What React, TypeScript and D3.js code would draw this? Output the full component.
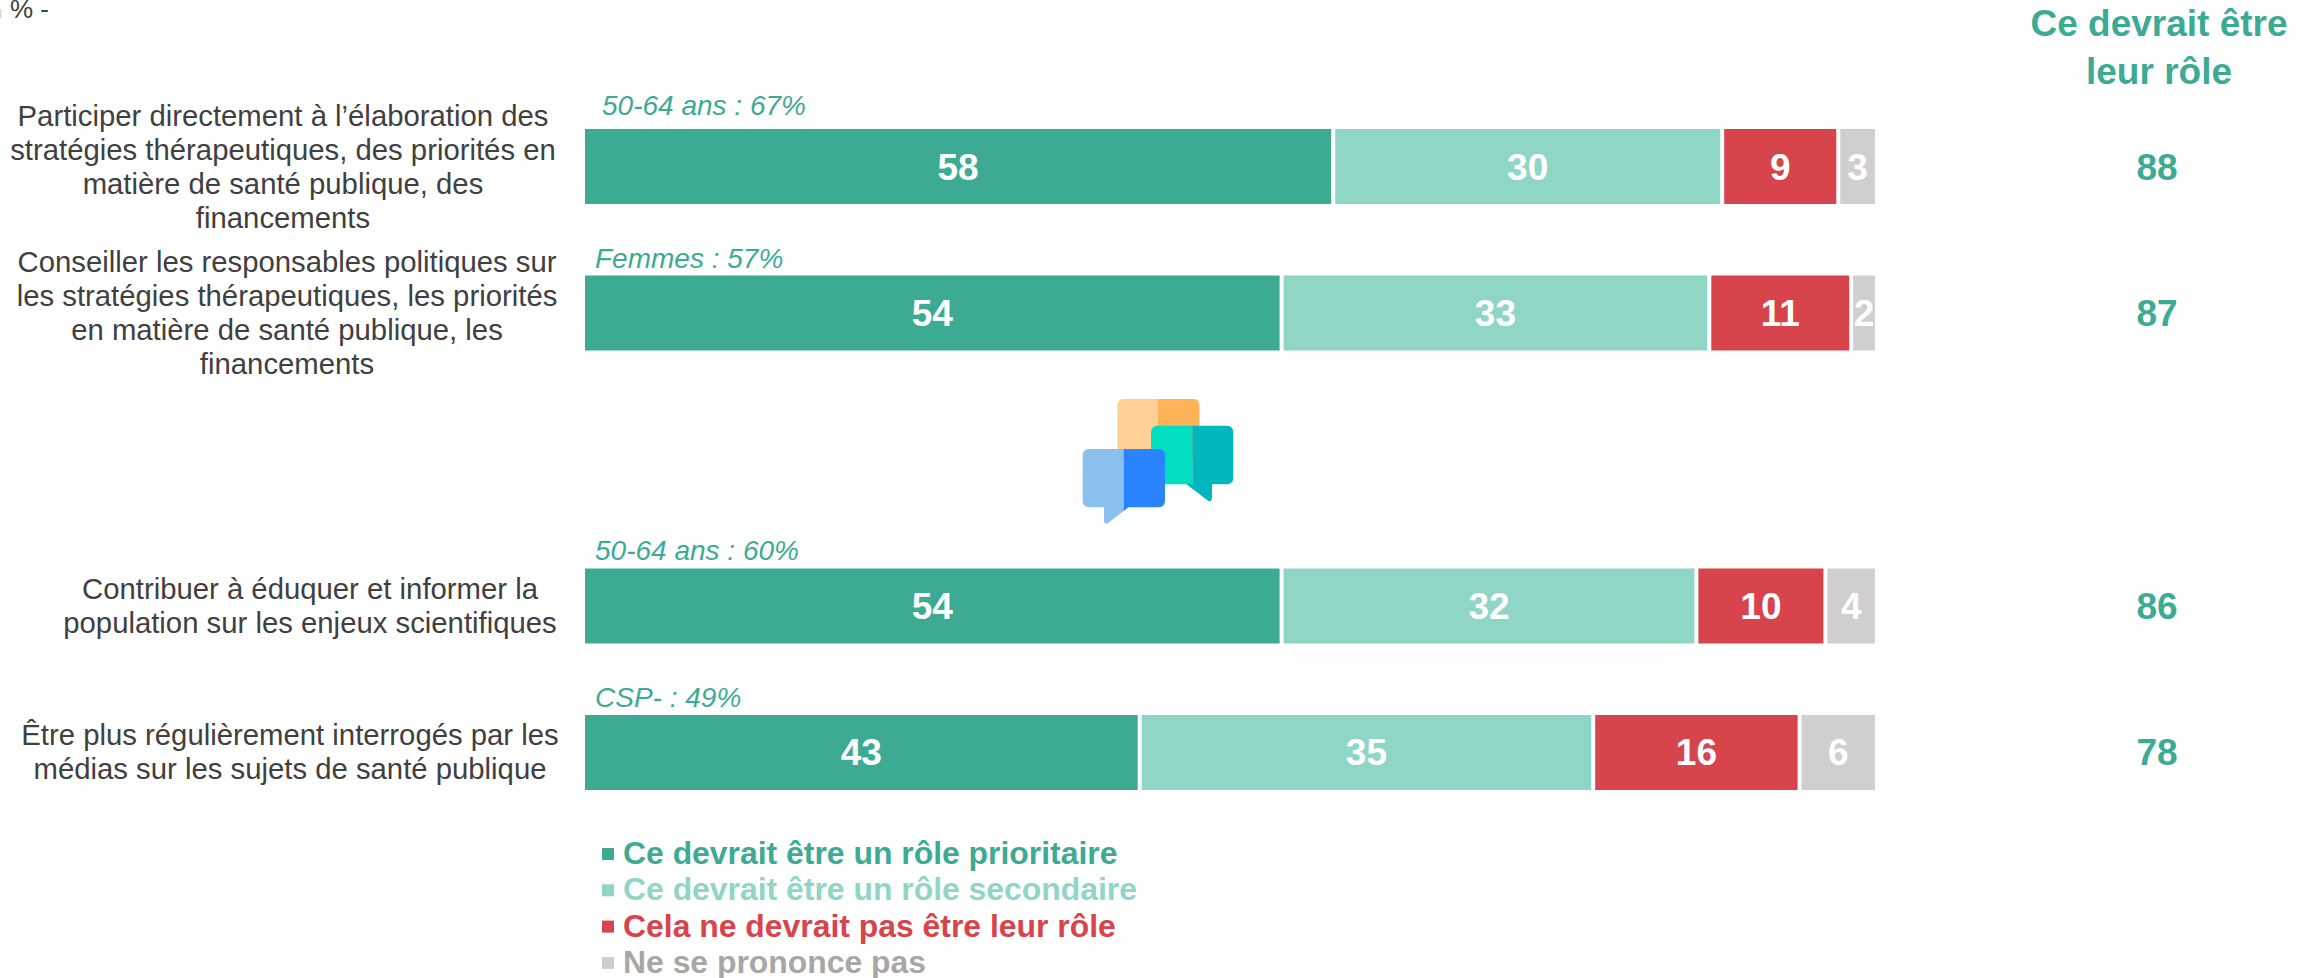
import React from 'react';
import * as d3 from 'd3';

const rows = ['participer', 'conseiller', 'icon', 'eduquer', 'medias'];
const keys = ['prioritaire', 'secondaire', 'pasRole', 'nsp'];
const keyColors = ['#3dab94', '#8fd6c7', '#d7444b', '#d0cecf'];
const legendColors = ['#3dab94', '#8fd6c7', '#d7444b', '#a9a6a6'];
const legendLabels = [
  'Ce devrait être un rôle prioritaire',
  'Ce devrait être un rôle secondaire',
  'Cela ne devrait pas être leur rôle',
  'Ne se prononce pas',
];

const prioritaire = [58, 54, 54, 43];
const secondaire = [30, 33, 32, 35];
const pasRole = [9, 11, 10, 16];
const nsp = [3, 2, 4, 6];
const totals = [88, 87, 86, 78];
const subLabels = ['50-64 ans : 67%', 'Femmes : 57%', '50-64 ans : 60%', 'CSP- : 49%'];
const barRows = ['participer', 'conseiller', 'eduquer', 'medias'];
const questions = [
  ['Participer directement à l’élaboration des', 'stratégies thérapeutiques, des priorités en', 'matière de santé publique, des', 'financements'],
  ['Conseiller les responsables politiques sur', 'les stratégies thérapeutiques, les priorités', 'en matière de santé publique, les', 'financements'],
  ['Contribuer à éduquer et informer la', 'population sur les enjeux scientifiques'],
  ['Être plus régulièrement interrogés par les', 'médias sur les sujets de santé publique'],
];
// centre des libellés, ils ne sont pas alignés entre eux dans l'original
const questionCenters = [283, 287, 310, 290];
const subLabelX = [602, 595, 595, 595];
const subLabelGap = [14, 7, 8, 8];

const font = '"Liberation Sans", Arial, sans-serif';
const teal = '#3dab94';

const table = barRows.map((_, i) => ({
  prioritaire: prioritaire[i],
  secondaire: secondaire[i],
  pasRole: pasRole[i],
  nsp: nsp[i],
}));
const series = d3.stack<any>().keys(keys)(table);

const x = d3.scaleLinear().domain([0, 100]).range([585, 1875]);
const y = d3.scaleBand().domain(rows).range([129, 790]).paddingInner(0.488).paddingOuter(0);

// blanc entre les segments : centré sur la première jointure, décalé ensuite
const segLeft = [0, 2, 4, 4];
const segRight = [-2, 0, 0, 0];

const ChatIcon = () => (
  <g transform="translate(1040,380) scale(0.3333)">
    <rect x={232} y={57} width={246} height={180} rx={18} fill="#ffd196" />
    <path d="M354 57H460a18 18 0 0 1 18 18V237H354Z" fill="#ffb357" />
    <path d="M351 137H457V313H440L505 362Q516 366 516 350V313H457H351A18 18 0 0 1 333 295V155A18 18 0 0 1 351 137Z" fill="#00dfc1" />
    <path d="M457 137H562a18 18 0 0 1 18 18V295a18 18 0 0 1-18 18H516V350Q516 366 505 362L440 313H457Z" fill="#00b7bd" />
    <path d="M146 207H251V382H265L205 428Q192 436 192 420V382H146A18 18 0 0 1 128 364V225A18 18 0 0 1 146 207Z" fill="#8abfee" />
    <path d="M251 207H357a18 18 0 0 1 18 18V364a18 18 0 0 1-18 18H265L251 393Z" fill="#2a84ff" />
  </g>
);

export default function App() {
  return (
    <svg
      width={2321}
      height={978}
      style={{ position: 'absolute', left: 0, top: 0, background: '#fff' }}
      fontFamily={font}
    >
      <rect x={0} y={9} width={1.5} height={9} fill="#d9d9d9" />
      <text x={10} y={18} fontSize={26} fill="#404040">% -</text>

      <text textAnchor="middle" x={2159} y={36} fontSize={37} fontWeight="bold" fill={teal}>Ce devrait être</text>
      <text textAnchor="middle" x={2159} y={84} fontSize={37} fontWeight="bold" fill={teal}>leur rôle</text>

      {questions.map((lines, i) => {
        const mid = (y(barRows[i]) as number) + y.bandwidth() / 2;
        return (
          <text key={i} textAnchor="middle" fontSize={29.3} fill="#404040">
            {lines.map((line, j) => (
              <tspan key={j} x={questionCenters[i]} y={mid + 10 + (j - (lines.length - 1) / 2) * 34}>
                {line}
              </tspan>
            ))}
          </text>
        );
      })}

      {subLabels.map((label, i) => (
        <text key={i} x={subLabelX[i]} y={(y(barRows[i]) as number) - subLabelGap[i]} fontSize={28} fontStyle="italic" fill={teal}>
          {label}
        </text>
      ))}

      {series.map((s, k) => (
        <g key={s.key}>
          {s.map((d, i) => {
            const left = x(d[0]) + segLeft[k];
            const right = x(d[1]) + segRight[k];
            return (
              <g key={i}>
                <rect x={left} y={y(barRows[i])} width={right - left} height={y.bandwidth()} fill={keyColors[k]} />
                <text
                  x={(left + right) / 2}
                  y={(y(barRows[i]) as number) + y.bandwidth() / 2 + 13}
                  textAnchor="middle"
                  fontSize={37}
                  fontWeight="bold"
                  fill="#fff"
                >
                  {d[1] - d[0]}
                </text>
              </g>
            );
          })}
        </g>
      ))}

      {totals.map((t, i) => (
        <text
          key={i}
          x={2157}
          y={(y(barRows[i]) as number) + y.bandwidth() / 2 + 13}
          textAnchor="middle"
          fontSize={37}
          fontWeight="bold"
          fill={teal}
        >
          {t}
        </text>
      ))}

      <ChatIcon />

      {legendLabels.map((label, i) => (
        <g key={label}>
          <rect x={602} y={848 + i * 36.3} width={12} height={12} fill={keyColors[i]} />
          <text x={623} y={864 + i * 36.3} fontSize={31.9} fontWeight="bold" fill={legendColors[i]}>
            {label}
          </text>
        </g>
      ))}
    </svg>
  );
}
